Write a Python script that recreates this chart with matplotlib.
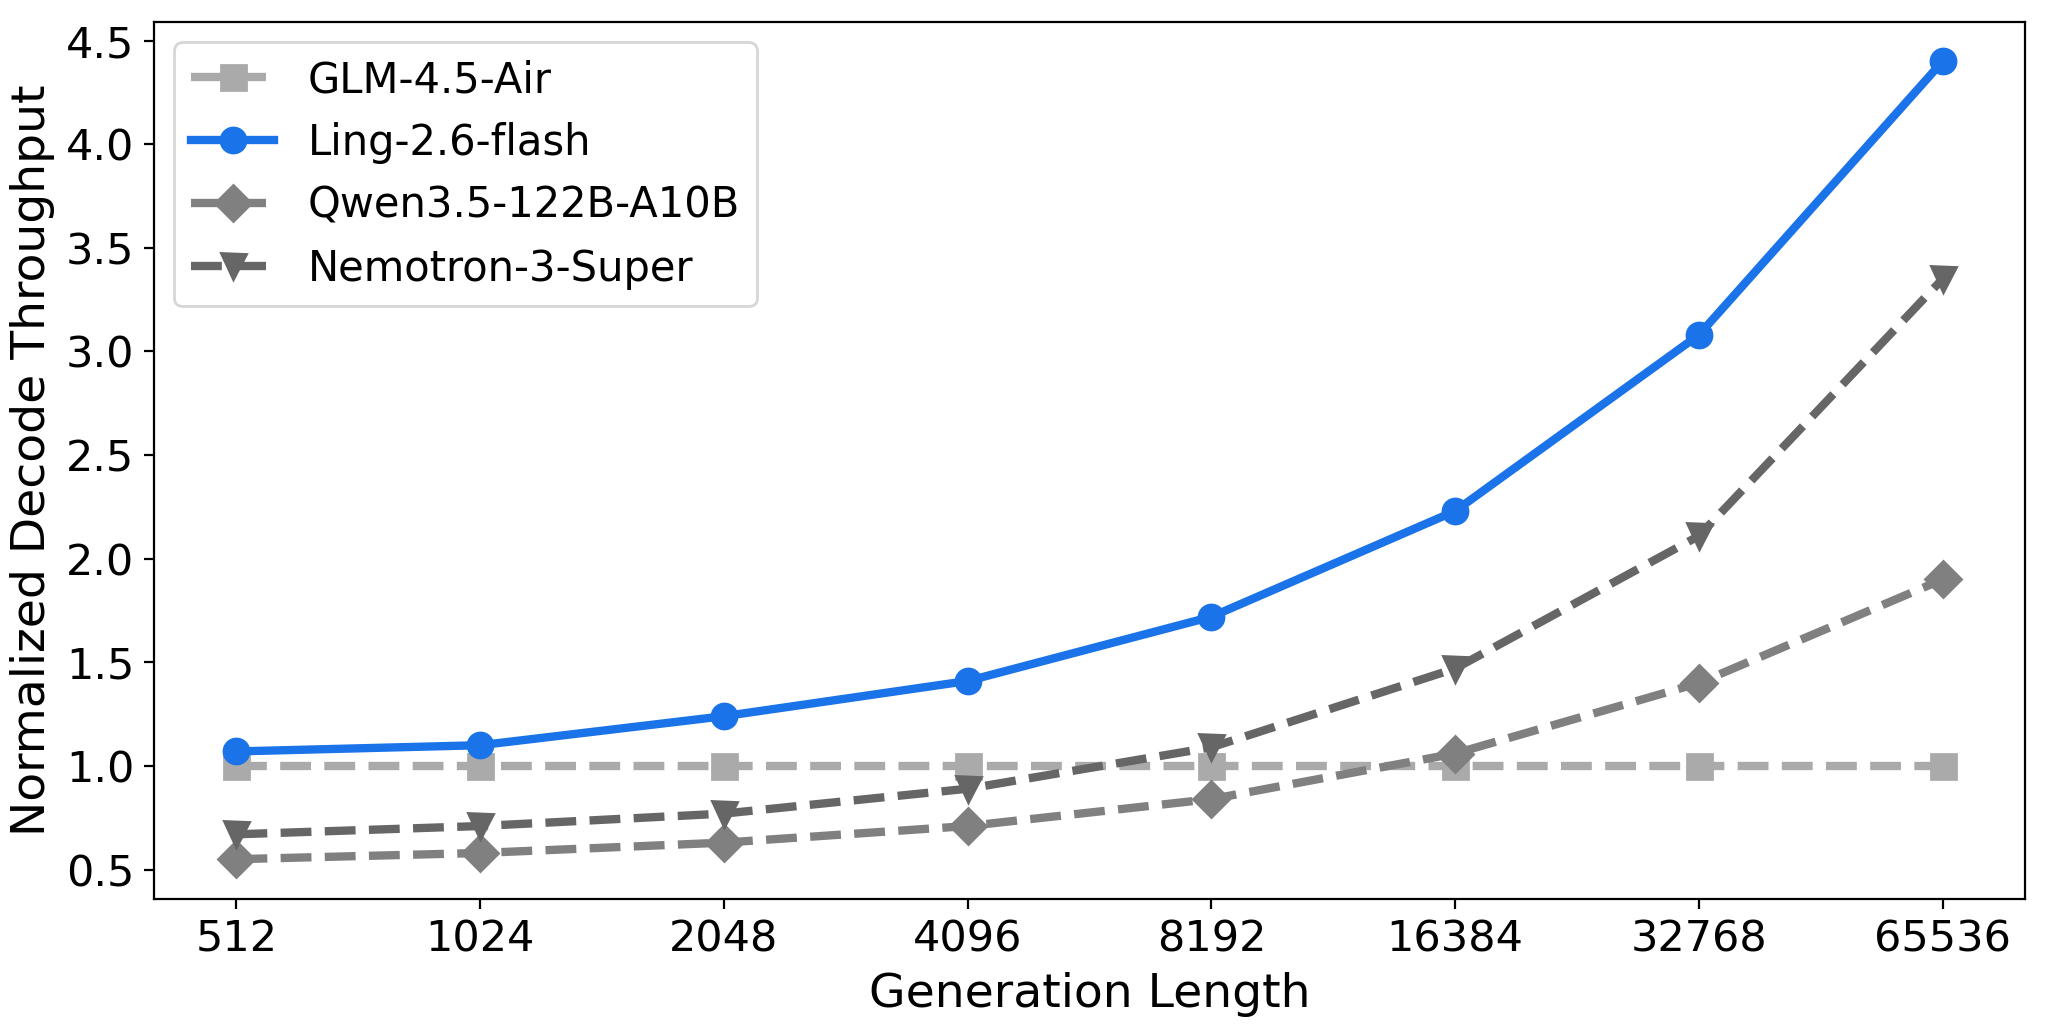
import numpy as np
import matplotlib
matplotlib.use("Agg")
import matplotlib.pyplot as plt

# Generation lengths (categorical x axis)
gen_lengths = [512, 1024, 2048, 4096, 8192, 16384, 32768, 65536]

glm = [1.00, 1.00, 1.00, 1.00, 1.00, 1.00, 1.00, 1.00]
ling = [1.07, 1.10, 1.24, 1.41, 1.72, 2.23, 3.08, 4.40]
qwen = [0.55, 0.58, 0.63, 0.71, 0.84, 1.06, 1.40, 1.90]
nemotron = [0.67, 0.71, 0.77, 0.89, 1.09, 1.47, 2.11, 3.35]

x = np.arange(len(gen_lengths))

fig = plt.figure(figsize=(10.24, 5.12), dpi=200)
ax = fig.add_subplot(111)

ax.plot(x, glm, color='#aaaaaa', ls='--', lw=3, marker='s', markersize=9, label="GLM-4.5-Air")
ax.plot(x, ling, color='#1a73e8', ls='-', lw=3, marker='o', markersize=9, label="Ling-2.6-flash")
ax.plot(x, qwen, color='#808080', ls='--', lw=3, marker='D', markersize=9, label="Qwen3.5-122B-A10B")
ax.plot(x, nemotron, color='#666666', ls='--', lw=3, marker='v', markersize=9, label="Nemotron-3-Super")

ax.set_xticks(x)
ax.set_xticklabels([str(g) for g in gen_lengths])
ax.set_xlim(-0.34, 7.34)
ax.set_yticks(np.arange(0.5, 4.51, 0.5))
ax.tick_params(labelsize=15.5)
ax.set_xlabel("Generation Length", fontsize=17)
ax.set_ylabel("Normalized Decode Throughput", fontsize=17)
ax.legend(loc='upper left', fontsize=15)

plt.subplots_adjust(left=0.075, right=0.989, top=0.979, bottom=0.122)
plt.savefig("out.png", dpi=200)
